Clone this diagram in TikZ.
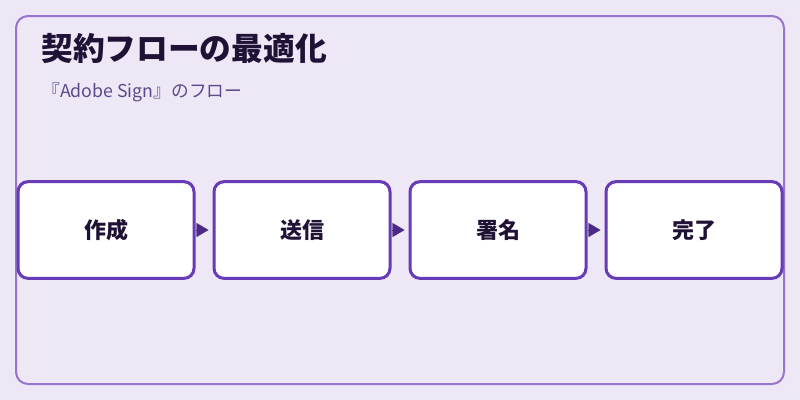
\documentclass[tikz,border=0pt]{standalone}
\usepackage{fontspec}
\setmainfont{Noto Sans CJK JP}
\usetikzlibrary{arrows.meta}
\definecolor{bgc}{HTML}{EDE7F6}
\definecolor{framec}{HTML}{9575CD}
\definecolor{boxc}{HTML}{673AB7}
\definecolor{arrc}{HTML}{4A2A85}
\definecolor{titlec}{HTML}{1F1235}
\definecolor{subc}{HTML}{5B4B8A}
\definecolor{labc}{HTML}{1F1235}
\tikzset{
  stepbox/.style={draw=boxc, fill=white, line width=2.25pt, rounded corners=7.5pt,
    minimum width=132pt, minimum height=72.5pt, inner sep=0pt,
    font=\fontsize{16.5pt}{18pt}\selectfont\bfseries, text=labc},
  flowarr/.style={draw=arrc, line width=0.3pt, -{Triangle[length=9pt,width=10.5pt]}, arrc, shorten >=3pt}
}
\begin{document}
\begin{tikzpicture}[x=0.75pt,y=-0.75pt]
\useasboundingbox (0,0) rectangle (800,400);
\fill[bgc] (0,0) rectangle (800,400);
\draw[framec, line width=1.5pt, rounded corners=9pt] (16,16) rectangle (784,384);
\node[anchor=base west, inner sep=0pt, text=titlec, font=\fontsize{23.8pt}{28pt}\selectfont\bfseries] (title) at (41,60) {契約フローの最適化};
\node[anchor=base west, inner sep=0pt, text=subc, font=\fontsize{13.3pt}{16pt}\selectfont] (sub) at (42,97) {『Adobe Sign』のフロー};
\node[stepbox] (b1) at (106,230) {作成};
\node[stepbox] (b2) at (302,230) {送信};
\node[stepbox] (b3) at (498,230) {署名};
\node[stepbox] (b4) at (694,230) {完了};
\draw[flowarr] (b1) -- (b2);
\draw[flowarr] (b2) -- (b3);
\draw[flowarr] (b3) -- (b4);
\end{tikzpicture}
\end{document}
